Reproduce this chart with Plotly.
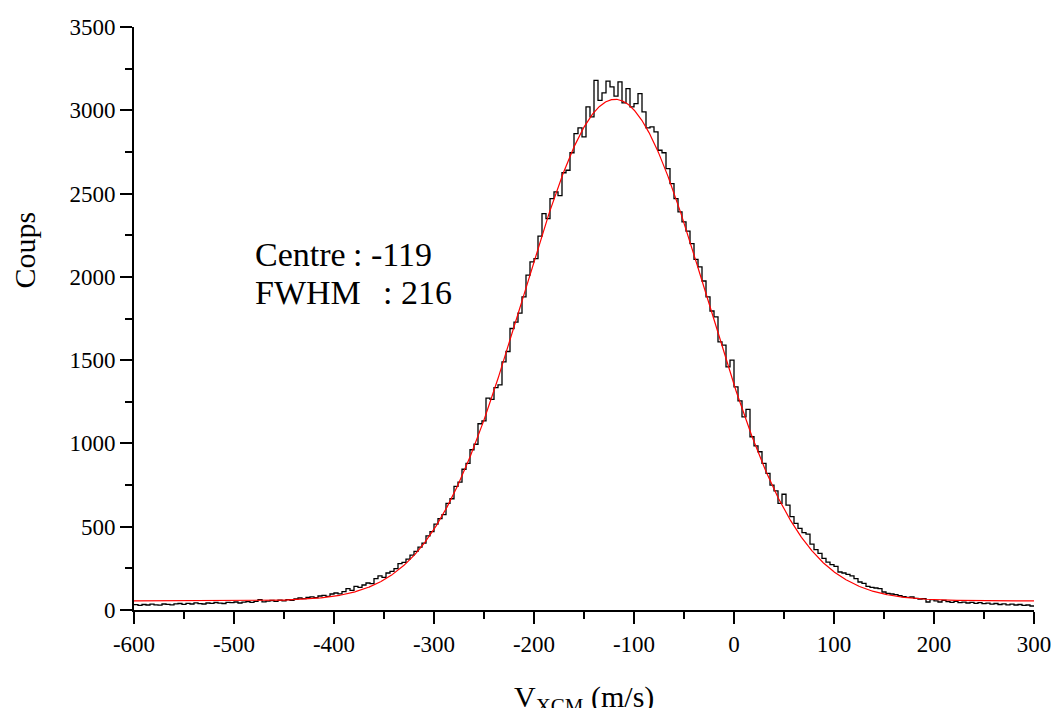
import numpy as np
import plotly.graph_objects as go

# ---------------- data ----------------
bin_start = -600      # m/s, left edge of first bin
bin_width = 4         # m/s

counts_left_tail = [32, 28, 33, 30, 35, 31, 29, 36, 34, 31, 37, 39, 34, 40, 36, 43, 38, 36, 42, 40,
                    45, 41, 39, 46, 44, 48, 42, 47, 50, 46, 52, 62, 49, 53, 57, 52, 59, 55]
counts_left_rise1 = [62, 58, 66, 72, 68, 75, 79, 74, 84, 88, 82, 96, 102, 97, 110, 128, 118, 142, 136, 150,
                     162, 158, 188, 205, 196, 222, 232, 248, 278, 286, 305, 330, 352, 378, 402, 445, 470]
counts_left_rise2 = [515, 548, 572, 640, 668, 742, 768, 845, 880, 962, 995, 1118, 1135, 1272, 1265, 1335,
                     1352, 1490, 1552, 1690, 1728, 1782, 1880, 2010, 2090]
counts_left_rise3 = [2110, 2245, 2380, 2350, 2470, 2510, 2488, 2625, 2640, 2745, 2860]
counts_peak = [2895, 2840, 3020, 2960, 3180, 3060, 3105, 3175, 3140, 3085, 3170, 3045, 3130, 3020, 3040,
               3100, 2990, 2895, 2900, 2870]
counts_right_fall1 = [2760, 2745, 2650, 2560, 2470, 2390, 2330, 2275, 2200, 2105, 2060, 1975, 1880, 1795,
                      1760, 1610, 1590, 1460, 1500, 1340]
counts_right_fall2 = [1255, 1160, 1205, 1040, 985, 950, 880, 820, 750, 715, 640, 695, 630, 560, 520, 490,
                      465, 455, 395, 362, 340, 310, 288, 272, 262, 228, 222, 214, 205, 188, 168, 160, 142,
                      136, 132, 128, 108, 100, 96, 92, 86]
counts_right_tail = [80, 76, 78, 70, 66, 68, 48, 62, 55, 48, 58, 50, 46, 52, 44, 47, 42, 46, 40, 44, 38, 41,
                     35, 39, 33, 37, 31, 35, 30, 33, 28, 30, 24]

# Gaussian fit parameters
fit_y0 = 55.0
fit_amp = 3011.0
fit_centre = -119.0
fit_fwhm = 216.0

x_ticks = [-600, -500, -400, -300, -200, -100, 0, 100, 200, 300]
y_ticks = [0, 500, 1000, 1500, 2000, 2500, 3000, 3500]

# ---------------- build ----------------
counts = (counts_left_tail + counts_left_rise1 + counts_left_rise2 + counts_left_rise3 +
          counts_peak + counts_right_fall1 + counts_right_fall2 + counts_right_tail)
edges = bin_start + bin_width * np.arange(len(counts) + 1)
step_y = counts + [counts[-1]]

x_fit = np.linspace(-600, 300, 1801)
y_fit = fit_y0 + fit_amp * np.exp(-4 * np.log(2) * (x_fit - fit_centre) ** 2 / fit_fwhm ** 2)

FONT = "Liberation Serif"

fig = go.Figure()
fig.add_trace(go.Scatter(x=edges, y=step_y, mode="lines", line_shape="hv",
                         line=dict(color="black", width=1.3), hoverinfo="skip", showlegend=False))
fig.add_trace(go.Scatter(x=x_fit, y=y_fit, mode="lines",
                         line=dict(color="#ff0000", width=1.2), hoverinfo="skip", showlegend=False))

axis_common = dict(showgrid=False, zeroline=False, showline=True, linecolor="black", linewidth=2,
                   ticks="outside", ticklen=12, tickwidth=2, tickcolor="black", automargin=False,
                   tickfont=dict(family=FONT, size=23, color="black"))

fig.update_xaxes(range=[-600, 300], tickvals=x_ticks, ticktext=[str(v) for v in x_ticks],
                 minor=dict(dtick=50, tick0=-600, ticks="outside", ticklen=7, tickwidth=2, tickcolor="black"),
                 **axis_common)
fig.update_yaxes(range=[0, 3500], tickvals=y_ticks, ticktext=[str(v) for v in y_ticks],
                 minor=dict(dtick=250, tick0=0, ticks="outside", ticklen=7, tickwidth=2, tickcolor="black"),
                 **axis_common)

ann_font = dict(family=FONT, size=34, color="black")
annotations = [
    dict(x=-481, y=2137, xref="x", yref="y", text="Centre", showarrow=False,
         xanchor="left", yanchor="middle", font=ann_font),
    dict(x=-383, y=2137, xref="x", yref="y", text=": -119", showarrow=False,
         xanchor="left", yanchor="middle", font=ann_font),
    dict(x=-481, y=1909, xref="x", yref="y", text="FWHM", showarrow=False,
         xanchor="left", yanchor="middle", font=ann_font),
    dict(x=-353, y=1909, xref="x", yref="y", text=": 216", showarrow=False,
         xanchor="left", yanchor="middle", font=ann_font),
    dict(x=-0.122, y=0.617, xref="paper", yref="paper", text="Coups", textangle=-90, showarrow=False,
         xanchor="center", yanchor="middle", font=dict(family=FONT, size=30, color="black")),
    dict(x=0.5, y=-0.152, xref="paper", yref="paper",
         text="V<sub>XCM</sub> (m/s)", showarrow=False,
         xanchor="center", yanchor="middle", font=dict(family=FONT, size=30, color="black")),
]

fig.update_layout(width=1053, height=708, margin=dict(l=134, r=19, t=27, b=98),
                  paper_bgcolor="white", plot_bgcolor="white", annotations=annotations,
                  font=dict(family=FONT, color="black"))

# remove the default page margin so the figure fills the window exactly
fig.write_html("out.html", config={"displayModeBar": False},
               post_script="document.body.style.margin='0';document.body.style.overflow='hidden';")
